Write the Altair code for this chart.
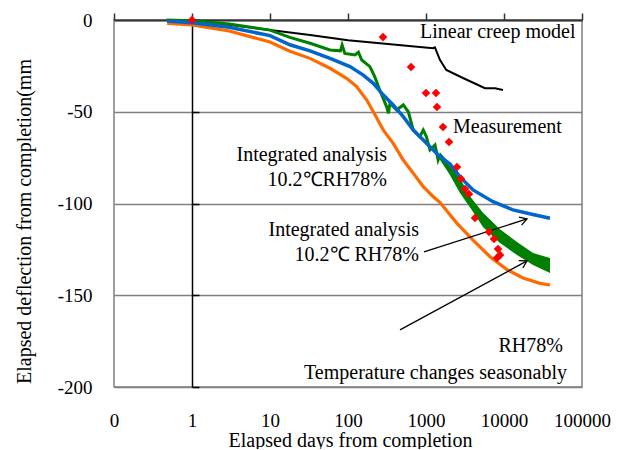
import altair as alt
import pandas as pd

# ---------------- data ----------------
orange_x = [0.48, 1, 3, 10, 18, 32.6, 58.8, 96, 129, 174, 211, 284, 380, 511, 687, 923,
            1241, 1513, 2500, 4008, 6622, 10920, 17530, 28970, 38900]
orange_y = [-1.8, -2.7, -6, -12, -17, -20.9, -26.3, -31.8, -36.3, -43.6, -50, -60, -67.2,
            -76.3, -83.5, -90.8, -96.3, -99.5, -110.8, -120, -129, -136, -140.6, -143.5, -144.4]

blue_x = [0.48, 1, 3, 10, 18, 32.6, 58.8, 106, 157, 211, 284, 380, 511, 687, 923, 1241,
          1513, 2031, 2729, 4008, 7227, 13030, 23460, 38900]
blue_y = [-0.5, -1.5, -4, -8.5, -13.5, -16.8, -20.9, -25.4, -30, -34.5, -40.9, -46.3,
          -52.7, -60, -65.4, -70.8, -74.5, -78.5, -85.5, -92.6, -99, -103.5, -106, -108]

green_x = [0.47, 1, 3, 10, 18, 32.6, 58.8, 80, 84, 91, 123, 136, 150, 191, 220, 255, 312,
           330, 345, 419, 511, 593, 687, 830, 923, 1012, 1125, 1305, 1430, 1513]
green_y = [0, -0.4, -2.2, -5.5, -9.5, -12.7, -16.3, -16.8, -13.6, -18.2, -19, -17.5, -21.8,
           -25.4, -30.9, -38.1, -47.2, -50.8, -45.4, -49, -46.3, -50, -60, -63.6, -60,
           -63.6, -70.8, -68.1, -76.3, -73.6]

band_x = [1500, 2000, 2700, 3660, 5380, 8890, 14690, 23560, 38900]
band_top = [-72, -78, -86, -96, -105, -114, -121, -127, -129.7]
band_bottom = [-76, -84, -94, -102, -112.8, -121.5, -128.1, -133.5, -137.9]

creep_x = [1, 10, 32.6, 100, 300, 1230, 1300, 1513, 1820, 2979, 5700, 7670, 9700]
creep_y = [0, -5.4, -8.2, -11, -13, -15.4, -14.9, -21.8, -27.2, -31.6, -37.2, -37.2, -38.1]

meas_x = [1, 281, 643, 1000, 1343, 1383, 1652, 1972, 2497, 2810, 3162, 3557, 4247,
          6424, 7447, 8380, 8891, 8130]
meas_y = [0, -9.3, -25.6, -39.8, -39.8, -47.4, -58.3, -66.5, -80.1, -86.6, -92.1, -94.8,
          -107.9, -115.5, -119.3, -124.8, -128.1, -129.7]

x_ticks = [0.1, 1, 10, 100, 1000, 10000, 100000]
y_ticks = [-200, -150, -100, -50, 0]

left_labels = ["Linear creep model", "Measurement"]
left_label_x = [838, 2218]
left_label_y = [-6.5, -58.3]

right_labels = ["Integrated analysis", "10.2℃RH78%", "Integrated analysis", "10.2℃ RH78%",
                "RH78%", "Temperature changes seasonably"]
right_label_x = [316, 316, 813, 813, 57000, 64200]
right_label_y = [-73.6, -87.2, -114.4, -128.1, -177.7, -192.4]

arrow_x0 = [942, 464]
arrow_y0 = [-126.4, -168.9]
arrow_x1 = [19720, 19720]
arrow_y1 = [-108.4, -131.3]
arrow_angle = [342.2, 331.5]

# ---------------- chart ----------------
FONT = "Liberation Serif"
W, H = 468, 367

xs = alt.Scale(type="log", domain=[0.1, 100000], nice=False)
ys = alt.Scale(domain=[-200, 0], nice=False)

x_main_axis = alt.Axis(values=x_ticks, labelExpr="datum.value < 0.5 ? '0' : format(datum.value, 'd')",
                       ticks=False, domain=False, grid=False, labelPadding=33, labelBaseline="middle",
                       labelFont=FONT, labelFontSize=19, labelColor="black",
                       title="Elapsed days from completion", titleFont=FONT, titleFontSize=20,
                       titleFontWeight="normal", titleColor="black", titleX=236, titleY=53,
                       titleBaseline="middle", titleAlign="center", labelFlush=False)
y_main_axis = alt.Axis(values=y_ticks, labelExpr="'' + datum.value", ticks=False, domain=False,
                       grid=True, gridColor="#808080", gridWidth=1.5, labelPadding=22,
                       labelFont=FONT, labelFontSize=19, labelColor="black",
                       title="Elapsed deflection from completion(mm", titleFont=FONT,
                       titleFontSize=20, titleFontWeight="normal", titleColor="black",
                       titleX=-90, titleY=201, titleAngle=270, titleBaseline="middle",
                       titleAlign="center")
x_top_axis = alt.Axis(orient="top", values=x_ticks, labels=False, ticks=True, tickSize=7,
                      tickColor="#333333", tickWidth=1.5, domain=True, domainColor="#333333",
                      domainWidth=2, grid=False, title=None)
y_cross_axis = alt.Axis(orient="right", offset=-390, values=y_ticks, labels=False, ticks=True,
                        tickSize=7, tickColor="black", tickWidth=1.5, domain=True,
                        domainColor="black", domainWidth=1.5, grid=False, title=None)

orange = alt.Chart(pd.DataFrame({"x": orange_x, "y": orange_y})).mark_line(
    color="#ff6a00", strokeWidth=3.2).encode(
    x=alt.X("x:Q", scale=xs, axis=x_main_axis),
    y=alt.Y("y:Q", scale=ys, axis=y_main_axis))

creep = alt.Chart(pd.DataFrame({"x": creep_x, "y": creep_y})).mark_line(
    color="black", strokeWidth=2).encode(
    x=alt.X("x:Q", scale=xs, axis=x_top_axis),
    y=alt.Y("y:Q", scale=ys, axis=y_cross_axis))

green = alt.Chart(pd.DataFrame({"x": green_x, "y": green_y})).mark_line(
    color="#008000", strokeWidth=3).encode(
    x=alt.X("x:Q", scale=xs, axis=None),
    y=alt.Y("y:Q", scale=ys, axis=None))

band = alt.Chart(pd.DataFrame({"x": band_x, "top": band_top, "bottom": band_bottom})).mark_area(
    color="#008000", opacity=1).encode(
    x=alt.X("x:Q", scale=xs, axis=None),
    y=alt.Y("top:Q", scale=ys, axis=None),
    y2="bottom:Q")

blue = alt.Chart(pd.DataFrame({"x": blue_x, "y": blue_y})).mark_line(
    color="#0066cc", strokeWidth=3.5).encode(
    x=alt.X("x:Q", scale=xs, axis=None),
    y=alt.Y("y:Q", scale=ys, axis=None))

meas = alt.Chart(pd.DataFrame({"x": meas_x, "y": meas_y})).mark_point(
    shape="diamond", filled=True, color="#ff0000", size=75, opacity=1).encode(
    x=alt.X("x:Q", scale=xs, axis=None),
    y=alt.Y("y:Q", scale=ys, axis=None))

txt_left = alt.Chart(pd.DataFrame({"x": left_label_x, "y": left_label_y, "t": left_labels})).mark_text(
    align="left", baseline="middle", font=FONT, fontSize=20, color="black").encode(
    x=alt.X("x:Q", scale=xs, axis=None),
    y=alt.Y("y:Q", scale=ys, axis=None),
    text="t:N")

txt_right = alt.Chart(pd.DataFrame({"x": right_label_x, "y": right_label_y, "t": right_labels})).mark_text(
    align="right", baseline="middle", font=FONT, fontSize=20, color="black").encode(
    x=alt.X("x:Q", scale=xs, axis=None),
    y=alt.Y("y:Q", scale=ys, axis=None),
    text="t:N")

arrows_df = pd.DataFrame({"x0": arrow_x0, "y0": arrow_y0, "x1": arrow_x1, "y1": arrow_y1,
                          "ang": arrow_angle})
arrow_lines = alt.Chart(arrows_df).mark_rule(color="black", strokeWidth=1.3).encode(
    x=alt.X("x0:Q", scale=xs, axis=None),
    y=alt.Y("y0:Q", scale=ys, axis=None),
    x2="x1:Q", y2="y1:Q")
arrow_heads = alt.Chart(arrows_df).mark_point(
    shape="M -1 -0.6 L 0 0 L -1 0.6", filled=False, color="black", strokeWidth=1.3,
    size=200, opacity=1).encode(
    x=alt.X("x1:Q", scale=xs, axis=None),
    y=alt.Y("y1:Q", scale=ys, axis=None),
    angle=alt.Angle("ang:Q", scale=None))

chart = alt.layer(orange, creep, band, green, blue, arrow_lines, arrow_heads, meas,
                  txt_left, txt_right).resolve_axis(
    x="independent", y="independent").properties(
    width=W, height=H, autosize="none",
    padding={"left": 106, "top": 12, "right": 30, "bottom": 62},
    background="white").configure_view(stroke="#808080", strokeWidth=1.5)

chart.save("out.html", embed_options={"renderer": "svg", "actions": False})
